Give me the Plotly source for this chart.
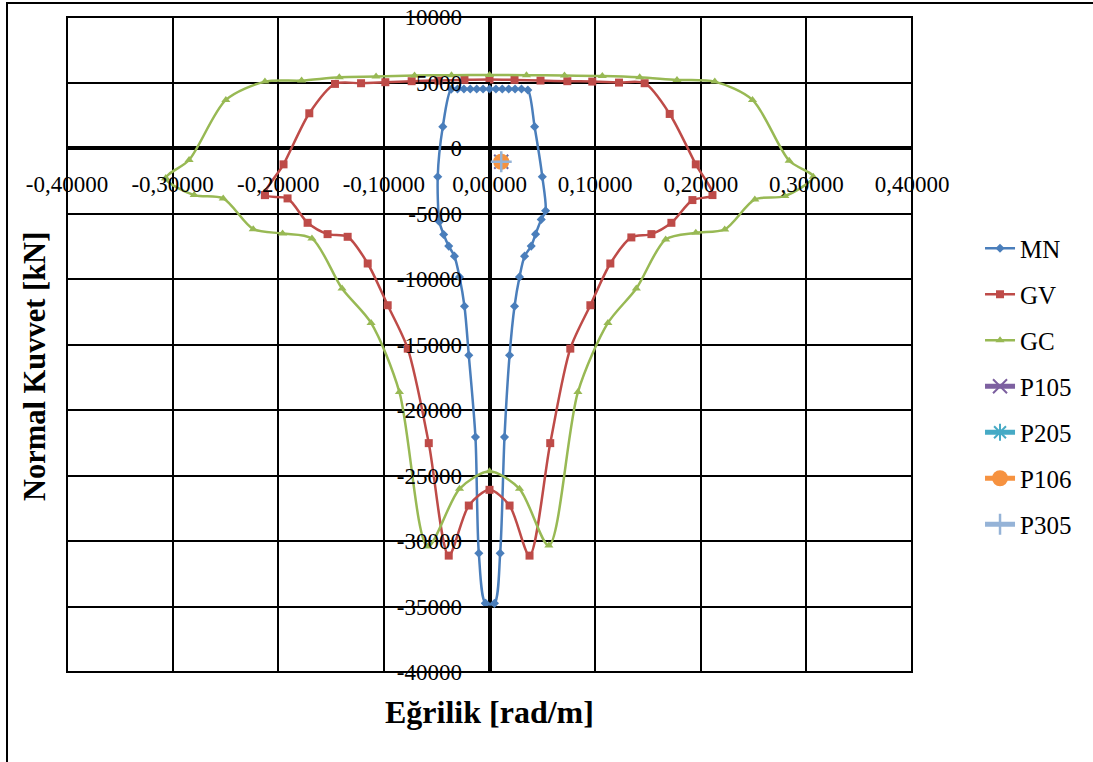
import plotly.graph_objects as go

# ---------------- data ----------------
mn_x = [-0.0038, -0.0101, -0.0133, -0.0196, -0.0237, -0.0284, -0.0332, -0.0386, -0.0434, -0.0474, -0.0490, -0.0442,
        -0.0363, -0.0303, -0.0242, -0.0182, -0.0121, -0.0061, 0.0000, 0.0061, 0.0121, 0.0182, 0.0242, 0.0303, 0.0363,
        0.0427, 0.0500, 0.0531, 0.0490, 0.0436, 0.0395, 0.0332, 0.0284, 0.0237, 0.0190, 0.0142, 0.0101, 0.0047, -0.0038]
mn_y = [-34760, -30940, -22070, -15825, -12079, -9838, -8257, -7490, -6600, -5634, -2194, 1628,
        4488, 4500, 4500, 4500, 4500, 4500, 4500, 4500, 4500, 4500, 4500, 4500, 4430,
        1628, -2194, -4793, -5451, -6575, -7490, -8257, -9838, -12079, -15825, -22070, -30940, -34760, -34760]

gv_x = [-0.2126, -0.1950, -0.1706, -0.1463, -0.1216, -0.0986, -0.0737, -0.0483, -0.0237, 0.0000, 0.0237, 0.0483,
        0.0737, 0.0973, 0.1226, 0.1469, 0.1706, 0.1953, 0.2111, 0.1921, 0.1722, 0.1533, 0.1343, 0.1144, 0.0955,
        0.0765, 0.0575, 0.0379, 0.0190, 0.0000, -0.0196, -0.0386, -0.0575, -0.0774, -0.0964, -0.1153, -0.1343,
        -0.1533, -0.1722, -0.1912, -0.2126]
gv_y = [-3593, -1248, 2650, 4893, 4945, 5022, 5100, 5150, 5200, 5230, 5200, 5150,
        5100, 5070, 4995, 4945, 2599, -1248, -3593, -3975, -5710, -6575, -6827, -8817, -12003,
        -15315, -22530, -31115, -27293, -26093, -27293, -31115, -22530, -15315, -12003, -8817, -6779,
        -6575, -5710, -3848, -3593]

gc_x = [-0.3065, -0.2844, -0.2496, -0.2126, -0.1779, -0.1422, -0.1074, -0.0710, -0.0360, 0.0000, 0.0350, 0.0710,
        0.1068, 0.1422, 0.1775, 0.2133, 0.2490, 0.2837, 0.3065, 0.2796, 0.2512, 0.2227, 0.1953, 0.1668, 0.1390,
        0.1121, 0.0837, 0.0562, 0.0284, 0.0000, -0.0284, -0.0585, -0.0853, -0.1121, -0.1396, -0.1681, -0.1959,
        -0.2237, -0.2521, -0.2796, -0.3065]
gc_y = [-2317, -917, 3670, 5069, 5145, 5405, 5451, 5530, 5560, 5580, 5560, 5530,
        5504, 5405, 5198, 5069, 3670, -973, -2194, -3670, -3924, -6218, -6473, -6980, -10726,
        -13356, -18631, -30351, -26016, -24671, -26016, -30427, -18631, -13356, -10726, -6905, -6523,
        -6193, -3848, -3593, -2317]

p_names = ["P105", "P205", "P106", "P305"]
p_x = [0.0111, 0.0111, 0.0111, 0.0111]
p_y = [-1048, -1048, -1048, -1048]

x_tick_vals = [-0.4, -0.3, -0.2, -0.1, 0.0, 0.1, 0.2, 0.3, 0.4]
x_tick_text = ["-0,40000", "-0,30000", "-0,20000", "-0,10000", "0,00000", "0,10000", "0,20000", "0,30000", "0,40000"]
y_tick_vals = [10000, 5000, 0, -5000, -10000, -15000, -20000, -25000, -30000, -35000, -40000]
y_tick_text = ["10000", "5000", "0", "-5000", "-10000", "-15000", "-20000", "-25000", "-30000", "-35000", "-40000"]

x_title = "Eğrilik [rad/m]"
y_title = "Normal Kuvvet [kN]"

# ---------------- styles ----------------
FONT = "Liberation Serif"
main_styles = {
    "MN": dict(color="#4A7EBB", symbol="diamond", size=7),
    "GV": dict(color="#BE4B48", symbol="square", size=8),
    "GC": dict(color="#98B954", symbol="triangle-up", size=8),
}
p_styles = {
    "P105": dict(color="#7D60A0", symbol="x-thin-open", size=14, lw=2),
    "P205": dict(color="#46AAC5", symbol="asterisk-open", size=14, lw=2),
    "P106": dict(color="#F69240", symbol="circle", size=16, lw=0),
    "P305": dict(color="#95B3D7", symbol="cross-thin-open", size=15, lw=2.5),
}

fig = go.Figure()
for name, xs, ys in [("MN", mn_x, mn_y), ("GV", gv_x, gv_y), ("GC", gc_x, gc_y)]:
    st = main_styles[name]
    fig.add_trace(go.Scatter(
        x=xs, y=ys, name=name, mode="lines+markers", legendgroup=name,
        line=dict(color=st["color"], width=2.5, shape="spline", smoothing=0.8),
        marker=dict(color=st["color"], symbol=st["symbol"], size=st["size"]),
    ))
for name, xv, yv in zip(p_names, p_x, p_y):
    st = p_styles[name]
    fig.add_trace(go.Scatter(
        x=[xv], y=[yv], name=name, mode="lines+markers", legendgroup=name,
        line=dict(color=st["color"], width=5),
        marker=dict(color=st["color"], symbol=st["symbol"], size=st["size"],
                    line=dict(color=st["color"], width=st["lw"])),
    ))

fig.update_layout(
    width=1093, height=762,
    margin=dict(l=67, r=181, t=17, b=90, autoexpand=False),
    paper_bgcolor="white", plot_bgcolor="white",
    font=dict(family=FONT, color="black", size=22),
    showlegend=True,
    legend=dict(x=1.0805, xanchor="left", y=0.6817, yanchor="top",
                font=dict(family=FONT, size=25, color="black"),
                traceorder="grouped", tracegroupgap=10.5, bgcolor="rgba(0,0,0,0)"),
    xaxis=dict(range=[-0.4, 0.4], tickvals=x_tick_vals, ticktext=x_tick_text,
               anchor="free", position=0.8, automargin=False,
               showgrid=True, gridcolor="black", gridwidth=1.5,
               zeroline=True, zerolinecolor="black", zerolinewidth=3.5,
               ticks="outside", ticklen=5, tickwidth=1.5, tickcolor="black",
               ticklabelstandoff=10,
               tickfont=dict(family=FONT, size=23, color="black"), showline=False),
    yaxis=dict(range=[-40000, 10000], tickvals=y_tick_vals, ticktext=y_tick_text,
               anchor="free", position=0.5, automargin=False,
               showgrid=True, gridcolor="black", gridwidth=1.5,
               zeroline=True, zerolinecolor="black", zerolinewidth=3.5,
               ticks="outside", ticklen=6, tickwidth=1.5, tickcolor="black",
               ticklabelstandoff=17,
               tickfont=dict(family=FONT, size=23, color="black"), showline=False),
    shapes=[
        dict(type="rect", xref="paper", yref="paper", x0=0, x1=1, y0=0, y1=1,
             line=dict(color="black", width=2), layer="above"),
        dict(type="rect", xref="paper", yref="paper", x0=-0.0710, x1=1.30, y0=-0.20, y1=1.0214,
             line=dict(color="black", width=2), layer="below"),
    ],
    annotations=[
        dict(text=f"<b>{x_title}</b>", xref="paper", yref="paper", x=0.5, y=-0.061,
             xanchor="center", yanchor="middle", showarrow=False,
             font=dict(family=FONT, size=32, color="black")),
        dict(text=f"<b>{y_title}</b>", xref="paper", yref="paper", x=-0.0379, y=0.467,
             xanchor="center", yanchor="middle", showarrow=False, textangle=-90,
             font=dict(family=FONT, size=30.5, color="black")),
    ],
)

fig.write_html("out.html", config={"displayModeBar": False},
               post_script="document.body.style.margin='0';")
